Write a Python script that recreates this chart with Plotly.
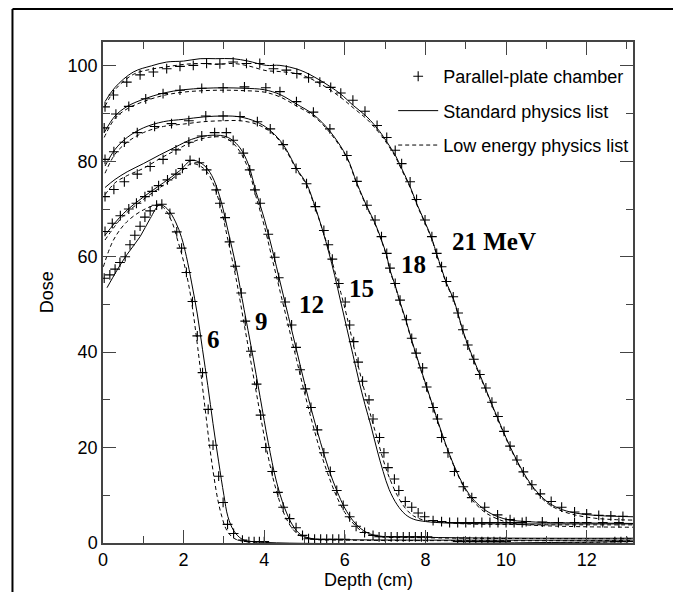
import plotly.graph_objects as go

# ---------------- data ----------------
# 6 MeV
e6_meas_x = [0.03,0.17,0.30,0.42,0.55,0.67,0.79,0.92,1.04,1.17,1.33,1.46,1.66,1.83,1.95,2.07,2.22,2.34,2.47,2.61,2.73,2.87,2.98,3.09,3.24,3.46,3.62,3.75,3.88,4.0,8.8,8.95,9.1,9.25,9.4,9.55,9.7,9.85,10.0,12.7,12.85,13.0]
e6_meas_y = [55.5,56.2,57.4,58.8,60.0,62.5,64.5,66.4,68.3,69.6,70.8,71.0,69.1,65.2,61.8,56.7,50.6,43.4,35.7,28.0,20.5,14.0,8.5,3.9,2.0,0.6,0.3,0.3,0.3,0.3,0.3,0.3,0.3,0.3,0.3,0.3,0.3,0.3,0.3,0.3,0.3,0.3]
e6_std_x = [0.1,0.35,0.59,0.92,1.17,1.41,1.6,1.8,1.95,2.07,2.2,2.34,2.47,2.6,2.73,2.87,3.0,3.1,3.25,3.45,3.7,13.15]
e6_std_y = [53.5,57.2,60.4,64.2,68.0,70.9,70.0,67.3,64.0,60.0,54.5,48.0,40.5,33.0,25.0,17.0,10.0,5.5,2.5,0.8,0.3,0.3]
e6_low_x = [0.01,0.26,0.59,1.0,1.33,1.5,1.7,1.85,2.0,2.15,2.25,2.35,2.45,2.55,2.65,2.75,2.85,2.95,3.05,3.2,3.45,13.15]
e6_low_y = [57.9,63.5,67.3,69.8,70.8,70.3,67.5,63.5,59.0,53.0,47.5,41.0,34.0,27.0,20.0,14.0,9.0,5.5,3.0,1.3,0.4,0.3]

# 9 MeV
e9_meas_x = [0.05,0.23,0.43,0.64,0.83,1.04,1.22,1.38,1.6,1.81,1.97,2.16,2.39,2.57,2.81,2.9,3.03,3.14,3.28,3.43,3.53,3.67,3.81,3.91,4.04,4.2,4.34,4.47,4.63,4.79,4.95,5.1,5.25,5.4,5.55,5.7,5.85,6.0]
e9_meas_y = [65.3,67.0,68.6,70.0,71.2,72.6,73.7,74.9,76.1,77.3,78.5,80.2,79.7,78.2,74.0,71.2,68.2,63.1,58.0,52.4,46.5,40.2,33.3,26.8,20.0,15.0,10.6,7.5,5.1,3.2,1.6,0.9,0.8,0.8,0.8,0.8,0.8,0.8]
e9_std_x = [0.05,0.5,1.0,1.5,1.9,2.2,2.5,2.7,2.9,3.1,3.3,3.5,3.7,3.9,4.1,4.3,4.5,4.7,4.9,5.2,6.0,13.15]
e9_std_y = [64.5,69.0,72.5,75.5,78.0,80.2,79.2,77.0,72.5,65.5,58.0,49.0,40.0,30.5,21.0,13.0,7.5,3.8,1.8,0.9,0.7,0.6]
e9_low_x = e9_std_x
e9_low_y = [63.5,68.5,72.0,75.0,77.5,79.5,78.5,76.0,71.0,63.5,55.5,46.0,36.5,27.0,18.0,11.0,6.0,3.0,1.5,0.8,0.6,0.5]

# 12 MeV
e12_meas_x = [0.05,0.27,0.53,0.85,1.17,1.49,1.81,2.13,2.45,2.77,3.06,3.23,3.48,3.64,3.77,3.9,4.10,4.26,4.36,4.52,4.68,4.79,4.89,5.02,5.16,5.32,5.48,5.64,5.80,5.96,6.12,6.28,6.49,6.70,6.85,7.0,7.15,7.3,7.45,7.6,7.75,7.9,8.05]
e12_meas_y = [72.6,74.1,75.7,77.3,78.9,80.4,82.4,84.0,85.3,86.0,86.0,84.4,81.7,78.2,74.0,71.2,64.7,59.9,55.6,50.5,45.7,41.0,36.3,32.3,28.4,23.7,18.9,15.0,11.0,7.9,5.5,3.5,2.2,1.6,1.3,1.3,1.3,1.3,1.3,1.3,1.3,1.3,1.3]
e12_std_x = [0.05,0.3,0.6,1.0,1.4,1.8,2.2,2.6,3.0,3.2,3.4,3.6,3.8,4.0,4.2,4.4,4.6,4.8,5.0,5.2,5.4,5.6,5.8,6.0,6.2,6.4,6.7,8.0,13.15]
e12_std_y = [74.5,76.2,77.8,79.5,81.3,83.0,84.6,85.4,85.3,84.5,82.8,79.5,73.5,68.0,61.5,54.5,47.5,40.5,33.5,27.0,21.0,15.5,11.0,7.3,4.7,3.0,1.7,1.2,1.0]
e12_low_x = e12_std_x
e12_low_y = [73.0,75.5,77.0,78.5,80.5,82.3,84.0,85.0,85.0,84.0,82.0,78.5,72.5,66.5,59.5,52.5,45.5,38.5,31.5,25.0,19.0,14.0,9.7,6.4,4.2,2.6,1.5,1.1,0.9]

# 15 MeV
e15_meas_x = [0.05,0.27,0.53,0.85,1.28,1.70,2.13,2.55,2.98,3.40,3.83,4.15,4.47,4.79,5.05,5.27,5.48,5.59,5.69,5.85,6.01,6.12,6.22,6.33,6.44,6.60,6.70,6.86,6.97,7.07,7.23,7.34,7.50,7.66,7.82,7.98,8.19,8.4,8.6,8.8,9.0,9.2,9.4,9.6,9.8,10.0,10.2,10.4]
e15_meas_y = [80.4,82.0,84.0,86.0,87.3,87.9,88.5,89.5,89.5,89.4,88.3,86.8,83.5,78.5,75.3,70.5,65.5,62.5,59.5,54.4,50.5,45.7,42.2,37.9,33.9,30.0,26.0,22.1,18.9,15.8,13.4,11.0,8.7,7.5,6.3,5.5,4.7,4.5,4.3,4.3,4.3,4.3,4.3,4.3,4.3,4.3,4.3,4.3]
e15_std_x = [0.05,0.3,0.6,1.0,1.5,2.0,2.5,3.0,3.4,3.8,4.1,4.39,4.56,4.80,5.05,5.25,5.45,5.6,5.75,5.9,6.05,6.2,6.35,6.5,6.65,6.8,6.95,7.1,7.3,7.5,7.7,8.0,8.5,9.0,10.0,11.0,12.0,13.15]
e15_std_y = [79.0,82.5,85.0,87.0,88.3,88.8,89.3,89.5,89.3,88.3,86.8,84.4,82.3,78.5,75.3,70.8,65.5,61.0,56.0,50.5,45.0,39.5,34.0,29.0,24.5,19.5,15.0,11.2,8.0,6.0,5.0,4.5,4.2,4.1,4.0,4.0,4.0,4.0]
e15_low_x = e15_std_x
e15_low_y = [77.5,81.5,84.0,86.0,87.3,87.8,88.3,88.5,88.5,87.8,86.5,84.2,82.0,78.3,75.0,70.6,65.5,61.5,57.0,52.5,47.5,42.0,36.5,31.5,26.5,22.0,17.5,13.8,10.0,7.3,5.7,4.7,4.3,4.0,3.9,3.8,3.8,3.8]

# 18 MeV
e18_meas_x = [0.03,0.32,0.64,1.06,1.49,1.91,2.45,2.98,3.51,4.04,4.39,4.80,5.22,5.63,6.05,6.30,6.55,6.75,6.91,7.04,7.12,7.25,7.37,7.53,7.66,7.77,7.93,8.03,8.19,8.30,8.40,8.56,8.72,8.94,9.15,9.47,9.79,10.1,10.5,10.9,11.3,11.7,12.0,12.4,12.8]
e18_meas_y = [87.0,89.9,91.5,93.1,94.2,94.9,95.3,95.4,95.6,95.4,94.6,92.5,90.3,86.8,81.2,75.8,70.8,67.7,64.2,60.7,57.6,54.4,50.9,46.8,42.9,39.8,36.7,32.7,28.4,26.0,22.1,18.9,15.0,11.8,9.5,7.5,5.9,4.9,4.5,4.4,4.3,4.3,4.3,4.3,4.3]
e18_std_x = [0.03,0.3,0.6,1.0,1.5,2.0,2.5,3.0,3.5,4.0,4.39,4.8,5.22,5.63,6.05,6.30,6.55,6.75,6.91,7.04,7.12,7.25,7.37,7.53,7.66,7.8,8.0,8.2,8.4,8.6,8.8,9.0,9.2,9.5,9.8,10.1,10.5,11.0,12.0,13.15]
e18_std_y = [86.0,89.5,91.5,93.0,94.3,95.0,95.3,95.4,95.3,95.0,94.0,92.0,89.8,86.3,80.9,75.4,70.5,67.0,63.5,60.2,57.2,54.0,50.5,46.3,42.5,38.7,33.5,28.3,23.2,18.5,14.5,11.3,9.0,6.8,5.5,4.8,4.5,4.3,4.2,4.1]
e18_low_x = e18_std_x
e18_low_y = [85.0,89.0,91.0,92.5,93.8,94.5,94.8,94.9,94.8,94.5,93.5,91.6,89.5,86.0,80.7,75.2,70.3,66.8,63.3,60.0,57.0,53.8,50.3,46.1,42.3,38.5,33.3,28.1,23.0,18.3,14.3,11.0,8.6,6.3,5.0,4.2,3.8,3.6,3.4,3.3]

# 21 MeV
e21_meas_x = [0.05,0.26,0.59,0.92,1.25,1.58,1.91,2.24,2.57,2.90,3.23,3.56,3.89,4.23,4.55,4.81,5.1,5.38,5.65,5.9,6.2,6.5,6.8,7.04,7.25,7.41,7.62,7.78,7.99,8.16,8.28,8.40,8.52,8.69,8.81,8.93,9.05,9.2,9.35,9.5,9.65,9.8,9.95,10.1,10.27,10.43,10.64,10.85,11.12,11.38,11.7,12.0,12.3,12.6,12.9]
e21_meas_y = [91.4,93.9,96.6,98.1,98.7,99.4,99.9,100.1,100.5,100.4,100.8,100.5,100.5,99.4,99.1,98.4,97.5,96.6,95.5,94.3,92.8,90.5,87.5,85.0,82.3,79.5,75.7,72.0,67.7,64.2,60.7,57.9,54.8,51.6,48.2,44.7,41.5,38.5,35.3,32.5,29.5,26.5,23.4,20.3,17.4,14.9,12.2,10.3,8.7,7.5,6.5,6.1,5.8,5.7,5.6]
e21_std_x = [0.05,0.3,0.75,1.2,1.58,2.0,2.41,2.8,3.23,3.6,4.05,4.39,4.89,5.38,5.88,6.21,6.55,6.87,7.04,7.25,7.41,7.62,7.78,7.99,8.16,8.28,8.40,8.52,8.69,8.81,8.93,9.1,9.3,9.5,9.7,9.9,10.1,10.3,10.5,10.7,11.0,11.3,11.7,12.2,12.7,13.15]
e21_std_y = [92.5,95.5,98.7,100.0,100.8,101.0,101.5,101.5,101.5,101.0,100.1,100.1,99.1,97.0,94.2,91.7,89.3,86.2,84.1,81.3,78.5,74.7,71.2,67.2,63.8,60.5,57.5,54.5,51.3,48.0,44.5,40.5,36.3,32.2,28.0,24.0,20.2,16.8,13.8,11.4,8.8,7.3,6.3,5.8,5.6,5.5]
e21_low_x = e21_std_x
e21_low_y = [91.5,95.0,98.2,99.3,99.8,100.3,100.5,100.3,100.5,100.0,99.0,98.8,98.2,96.3,93.5,91.2,88.8,85.8,83.8,81.0,78.2,74.5,71.0,67.0,63.6,60.3,57.3,54.3,51.1,47.8,44.3,40.3,36.0,32.0,27.8,23.8,20.0,16.6,13.6,11.2,8.5,7.0,5.9,5.2,4.9,4.8]

# energy labels
label_text = ["6", "9", "12", "15", "18", "21 MeV"]
label_x = [2.73, 3.94, 5.18, 6.42, 7.70, 9.69]
label_y = [42.6, 46.4, 49.9, 53.4, 58.3, 63.2]

series_names = ["Parallel-plate chamber", "Standard physics list", "Low energy physics list"]

energies = [
    (e6_meas_x, e6_meas_y, e6_std_x, e6_std_y, e6_low_x, e6_low_y),
    (e9_meas_x, e9_meas_y, e9_std_x, e9_std_y, e9_low_x, e9_low_y),
    (e12_meas_x, e12_meas_y, e12_std_x, e12_std_y, e12_low_x, e12_low_y),
    (e15_meas_x, e15_meas_y, e15_std_x, e15_std_y, e15_low_x, e15_low_y),
    (e18_meas_x, e18_meas_y, e18_std_x, e18_std_y, e18_low_x, e18_low_y),
    (e21_meas_x, e21_meas_y, e21_std_x, e21_std_y, e21_low_x, e21_low_y),
]

fig = go.Figure()
for i, (mx, my, sx, sy, lx, ly) in enumerate(energies):
    first = (i == 0)
    fig.add_trace(go.Scatter(
        x=sx, y=sy, mode="lines", name=series_names[1], legendgroup="b", legendrank=2,
        showlegend=first, line=dict(color="black", width=1), line_shape="spline"))
    fig.add_trace(go.Scatter(
        x=lx, y=ly, mode="lines", name=series_names[2], legendgroup="c", legendrank=3,
        showlegend=first, line=dict(color="black", width=1, dash="4px,3px"), line_shape="spline"))
    fig.add_trace(go.Scatter(
        x=mx, y=my, mode="markers", name=series_names[0], legendgroup="a", legendrank=1,
        showlegend=first,
        marker=dict(symbol="cross-thin", size=7, color="black", line=dict(width=1.1, color="black"))))

for t, x, y in zip(label_text, label_x, label_y):
    fig.add_annotation(x=x, y=y, text="<b>" + t + "</b>", showarrow=False,
                       font=dict(family="Liberation Serif", size=25, color="black"),
                       xanchor="center", yanchor="middle")

# axis titles
fig.add_annotation(x=-0.106, y=0.5, xref="paper", yref="paper", text="Dose", textangle=-90,
                   showarrow=False, font=dict(family="Liberation Sans", size=18, color="black"),
                   xanchor="center", yanchor="middle")
fig.add_annotation(x=0.5, y=-0.073, xref="paper", yref="paper", text="Depth (cm)",
                   showarrow=False, font=dict(family="Liberation Sans", size=18, color="black"),
                   xanchor="center", yanchor="middle")

# outer frame (left and top edges of the figure box)
frame_left = -0.1708
frame_top = 1.0658
fig.add_shape(type="line", xref="paper", yref="paper", x0=frame_left, x1=frame_left,
              y0=frame_top, y1=-0.2, line=dict(color="black", width=2))
fig.add_shape(type="line", xref="paper", yref="paper", x0=frame_left, x1=1.2,
              y0=frame_top, y1=frame_top, line=dict(color="black", width=2))

axis_common = dict(
    showline=True, linecolor="#444", linewidth=1.5, mirror="ticks",
    ticks="inside", ticklen=13, tickwidth=1.3, tickcolor="#444",
    showgrid=False, zeroline=False,
    tickfont=dict(family="Liberation Sans", size=18, color="black"),
)
fig.update_xaxes(range=[0, 13.15], dtick=2, tick0=0,
                 minor=dict(ticks="inside", ticklen=7, dtick=1, tickcolor="#444", tickwidth=1.3),
                 **axis_common)
fig.update_yaxes(range=[0, 105], dtick=20, tick0=0,
                 minor=dict(ticks="inside", ticklen=7, dtick=10, tickcolor="#444", tickwidth=1.3),
                 **axis_common)

fig.update_layout(
    width=673, height=592,
    margin=dict(l=103, r=40, t=42, b=49),
    plot_bgcolor="white", paper_bgcolor="white",
    legend=dict(x=0.5475, y=0.968, xanchor="left", yanchor="top",
                bgcolor="rgba(0,0,0,0)", traceorder="grouped", tracegroupgap=8,
                font=dict(family="Liberation Sans", size=18, color="black"),
                itemwidth=40),
    font=dict(family="Liberation Sans", color="black"),
)

fig.write_html("out.html")
